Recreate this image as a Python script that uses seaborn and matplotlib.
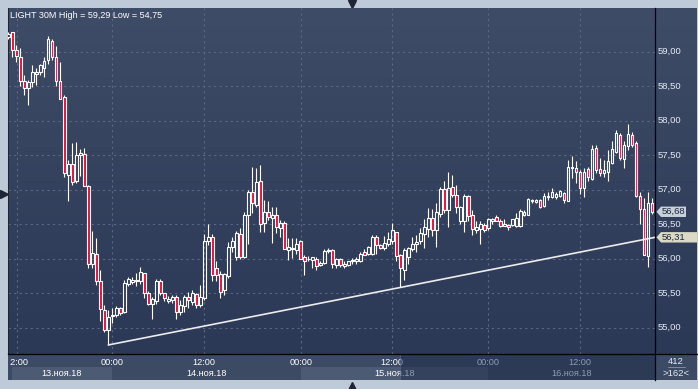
import matplotlib
matplotlib.use("Agg")  # pas de fenêtre, on enregistre directement

import numpy as np
import pandas as pd
import matplotlib.pyplot as plt
import seaborn as sns
from matplotlib.colors import LinearSegmentedColormap
from matplotlib.patches import Polygon
from matplotlib.transforms import Bbox, TransformedBbox

# ==========================
# 1. Data : LIGHT, bougies 30M
# ==========================

opens = [59.21, 59.28, 59.02, 58.92, 58.58, 58.47, 58.56, 58.68, 58.70, 58.76,
         58.88, 59.16, 58.93, 58.57, 58.34, 57.22, 57.37, 57.12, 57.51, 57.52,
         57.06, 55.92, 56.07, 55.67, 55.26, 54.96, 55.17, 55.19, 55.28, 55.23,
         55.64, 55.66, 55.67, 55.67, 55.79, 55.50, 55.34, 55.38, 55.68, 55.50,
         55.39, 55.40, 55.45, 55.23, 55.31, 55.44, 55.37, 55.49, 55.33, 55.43,
         56.25, 56.32, 55.86, 55.78, 55.55, 55.75, 56.17, 56.03, 56.36, 56.03,
         56.63, 56.97, 56.78, 57.12, 56.52, 56.68, 56.59, 56.64, 56.45, 56.52,
         56.13, 56.14, 56.12, 56.26, 56.02, 55.99, 55.98, 55.99, 55.91, 55.94,
         56.11, 56.12, 55.91, 55.99, 55.89, 55.91, 55.96, 55.97, 55.96, 56.10,
         56.07, 56.07, 56.32, 56.20, 56.15, 56.21, 56.25, 56.38, 56.05, 55.84,
         56.03, 56.14, 56.22, 56.25, 56.36, 56.43, 56.59, 56.42, 56.65, 57.01,
         56.70, 57.04, 56.93, 56.55, 56.55, 56.91, 56.64, 56.42, 56.43, 56.49,
         56.44, 56.55, 56.60, 56.55, 56.48, 56.49, 56.49, 56.47, 56.47, 56.64,
         56.64, 56.83, 56.82, 56.85, 56.76, 56.89, 56.90, 56.89, 56.91, 56.95,
         56.84, 57.31, 57.31, 57.26, 57.02, 57.30, 57.15, 57.60, 57.30, 57.24,
         57.26, 57.39, 57.54, 57.79, 57.44, 57.63, 57.79, 57.67, 56.91, 56.72,
         56.04, 56.80]

highs = [59.28, 59.29, 59.10, 59.05, 58.66, 58.59, 58.80, 58.77, 58.82, 58.92,
         59.23, 59.18, 59.08, 58.85, 58.37, 57.43, 57.67, 57.69, 57.59, 57.60,
         57.07, 56.40, 56.30, 55.84, 55.33, 55.25, 55.28, 55.31, 55.30, 55.69,
         55.73, 55.74, 55.79, 55.88, 55.80, 55.53, 55.45, 55.70, 55.70, 55.51,
         55.46, 55.48, 55.47, 55.40, 55.47, 55.52, 55.54, 55.51, 55.62, 56.36,
         56.50, 56.36, 55.96, 55.82, 55.80, 56.24, 56.32, 56.40, 56.45, 56.68,
         56.99, 57.33, 57.31, 57.36, 56.85, 56.83, 56.75, 56.75, 56.56, 56.54,
         56.30, 56.30, 56.30, 56.27, 56.05, 56.04, 56.03, 56.03, 55.97, 56.14,
         56.15, 56.14, 56.01, 56.01, 55.96, 55.97, 56.01, 56.02, 56.09, 56.14,
         56.18, 56.35, 56.34, 56.22, 56.33, 56.38, 56.52, 56.38, 56.07, 56.15,
         56.17, 56.32, 56.34, 56.44, 56.58, 56.73, 56.72, 56.80, 57.04, 57.12,
         57.25, 57.21, 57.07, 56.76, 56.94, 56.93, 56.71, 56.54, 56.54, 56.52,
         56.59, 56.59, 56.63, 56.57, 56.57, 56.50, 56.58, 56.66, 56.72, 56.71,
         56.88, 56.87, 56.86, 56.87, 56.95, 56.97, 57.02, 56.97, 57.00, 56.97,
         57.43, 57.49, 57.41, 57.29, 57.31, 57.33, 57.65, 57.65, 57.46, 57.43,
         57.58, 57.70, 57.87, 57.82, 57.70, 57.95, 57.84, 57.70, 56.96, 56.88,
         56.97, 56.88]

lows = [59.19, 58.92, 58.85, 58.50, 58.37, 58.23, 58.49, 58.51, 58.66, 58.64,
        58.82, 58.88, 58.50, 58.32, 57.19, 56.84, 57.07, 57.09, 57.20, 57.05,
        55.86, 55.86, 55.62, 55.09, 54.94, 54.75, 55.07, 55.16, 55.18, 55.21,
        55.60, 55.64, 55.60, 55.64, 55.43, 55.33, 55.13, 55.35, 55.47, 55.38,
        55.36, 55.36, 55.12, 55.18, 55.23, 55.28, 55.33, 55.28, 55.30, 55.40,
        56.20, 55.67, 55.67, 55.43, 55.47, 55.72, 56.10, 55.98, 56.00, 56.01,
        56.22, 56.66, 56.75, 56.39, 56.39, 56.56, 56.23, 56.37, 56.32, 56.14,
        55.98, 56.01, 56.07, 55.99, 55.76, 55.97, 55.86, 55.83, 55.89, 55.93,
        56.08, 55.86, 55.86, 55.88, 55.87, 55.89, 55.92, 55.93, 55.95, 56.05,
        56.05, 56.05, 56.07, 56.14, 56.12, 56.19, 56.21, 55.97, 55.59, 55.69,
        55.93, 56.11, 56.10, 56.22, 56.15, 56.32, 56.33, 56.17, 56.61, 56.66,
        56.46, 56.90, 56.66, 56.51, 56.39, 56.54, 56.34, 56.37, 56.22, 56.39,
        56.42, 56.51, 56.54, 56.46, 56.47, 56.41, 56.47, 56.46, 56.46, 56.62,
        56.63, 56.81, 56.81, 56.73, 56.75, 56.85, 56.88, 56.87, 56.89, 56.80,
        56.83, 57.17, 57.10, 56.94, 56.89, 57.12, 57.14, 57.24, 57.20, 57.19,
        57.12, 57.37, 57.53, 57.43, 57.31, 57.57, 57.62, 56.89, 56.51, 56.05,
        55.88, 56.65]

closes = [59.26, 59.03, 58.94, 58.57, 58.48, 58.56, 58.70, 58.71, 58.80, 58.87,
          59.18, 58.92, 58.58, 58.32, 57.24, 57.37, 57.11, 57.50, 57.53, 57.05,
          55.93, 56.08, 55.67, 55.27, 54.96, 55.16, 55.19, 55.28, 55.22, 55.65,
          55.70, 55.69, 55.69, 55.81, 55.51, 55.34, 55.41, 55.68, 55.51, 55.43,
          55.42, 55.44, 55.23, 55.33, 55.44, 55.40, 55.50, 55.33, 55.45, 56.26,
          56.31, 55.77, 55.76, 55.52, 55.78, 56.17, 56.25, 56.37, 56.03, 56.63,
          56.97, 56.80, 57.11, 56.51, 56.67, 56.61, 56.63, 56.46, 56.52, 56.14,
          56.17, 56.15, 56.22, 56.00, 55.97, 56.00, 56.02, 55.89, 55.94, 56.11,
          56.12, 55.93, 55.99, 55.91, 55.93, 55.96, 55.98, 56.00, 56.07, 56.06,
          56.17, 56.32, 56.20, 56.16, 56.23, 56.28, 56.41, 56.04, 55.87, 56.13,
          56.15, 56.22, 56.24, 56.37, 56.46, 56.59, 56.42, 56.68, 57.01, 56.71,
          57.02, 56.92, 56.75, 56.75, 56.91, 56.62, 56.43, 56.46, 56.50, 56.42,
          56.57, 56.57, 56.55, 56.48, 56.50, 56.46, 56.57, 56.59, 56.69, 56.67,
          56.86, 56.85, 56.85, 56.75, 56.91, 56.91, 56.97, 56.94, 56.98, 56.85,
          57.33, 57.33, 57.26, 57.02, 57.26, 57.19, 57.59, 57.28, 57.24, 57.29,
          57.41, 57.59, 57.82, 57.46, 57.65, 57.81, 57.65, 56.91, 56.72, 56.05,
          56.80, 56.68]

price_ticks = [55.0, 55.5, 56.0, 56.5, 57.0, 57.5, 58.0, 58.5, 59.0]

# positions en index de bougie
time_ticks = [2.2, 25.9, 49.0, 73.1, 95.9, 119.9, 142.8]
time_labels = ["12:00", "00:00", "12:00", "00:00", "12:00", "00:00", "12:00"]
day_edges = [0.9, 25.9, 73.1, 119.9, 161.7]
day_labels = ["13.ноя.18", "14.ноя.18", "15.ноя.18", "16.ноя.18"]
scroll_edge = 97.9

# ligne de tendance (depuis le plus bas)
trend_k = [25, 161.7]
trend_price = [54.75, 56.31]

bars_total = 412

df = pd.DataFrame({"open": opens, "high": highs, "low": lows, "close": closes})
df["k"] = np.arange(len(df))
df["top"] = df[["open", "close"]].max(axis=1)
df["bot"] = df[["open", "close"]].min(axis=1)
df["up"] = df["close"] >= df["open"]

# ==========================
# 2. Figure layout (pixels)
# ==========================

sns.set_style("dark")
plt.rcParams["font.family"] = ["Liberation Sans", "DejaVu Sans"]

W, H = 698, 389
X_LO, X_HI = -0.075, 161.675
Y_LO, Y_HI = 54.619, 59.633

fig = plt.figure(figsize=(W / 100, H / 100), dpi=100, facecolor="#bfcad9")


def px_axes(x0, y0, x1, y1, **kw):
    return fig.add_axes([x0 / W, 1 - y1 / H, (x1 - x0) / W, (y1 - y0) / H], **kw)


grad = LinearSegmentedColormap.from_list("bg", ["#3f4c67", "#2b3856"])


def paint_gradient(a):
    a.imshow(np.linspace(0, 1, 256).reshape(-1, 1), cmap=grad, aspect="auto",
             extent=[0, 1, 0, 1], transform=a.transAxes, zorder=-10, origin="upper")


# petites flèches du cadre
ax_bg = px_axes(0, 0, W, H)
ax_bg.set_zorder(-1)
ax_bg.set_xlim(0, W)
ax_bg.set_ylim(H, 0)
ax_bg.axis("off")
ax_bg.patch.set_alpha(0)
ax_bg.plot([352], [3.5], marker="v", ms=6, color="#1d2435", ls="none")
ax_bg.plot([352], [385.5], marker="^", ms=6, color="#1d2435", ls="none")
ax_bg.plot([3.5], [194], marker=">", ms=6, color="#1d2435", ls="none")

# ==========================
# 3. Chart principal
# ==========================

ax = px_axes(8, 8, 655, 354)
paint_gradient(ax)

ax.vlines(df["k"], df["top"], df["high"], color="white", lw=0.8, zorder=3)
ax.vlines(df["k"], df["low"], df["bot"], color="white", lw=0.8, zorder=3)
body_h = np.maximum(df["top"] - df["bot"], 0.012)
fills = [(0, 0, 0, 0) if u else "#ec0a36" for u in df["up"]]
ax.bar(df["k"], body_h, bottom=df["bot"], width=0.6, color=fills,
       edgecolor="white", linewidth=0.8, zorder=4)

sns.lineplot(x=trend_k, y=trend_price, ax=ax, color="#ececec", linewidth=1.2,
             sort=False, estimator=None, zorder=5)

ax.set_yticks(price_ticks)
ax.set_xticks(time_ticks)
ax.grid(True, color="#5a6785", ls=(0, (2, 3)), lw=0.8)
ax.tick_params(length=0, labelleft=False, labelbottom=False)
ax.set_xlabel("")
ax.set_ylabel("")
for name, s in ax.spines.items():
    s.set_visible(name == "left")
ax.spines["left"].set_color("#1f2535")
ax.spines["left"].set_linewidth(0.75)

ax.text(2 / 647, 1 - 7 / 346, "LIGHT 30M High = %s Low = %s" % (
    f"{max(highs):.2f}".replace(".", ","), f"{min(lows):.2f}".replace(".", ",")),
    transform=ax.transAxes, color="white", fontsize=6.5, ha="left", va="center")

# ==========================
# 4. Echelle des prix (droite)
# ==========================

ax_r = px_axes(655, 8, 697, 354, sharey=ax)
paint_gradient(ax_r)
ax_r.tick_params(length=0, labelleft=False, labelbottom=False)
ax_r.grid(False)
for name, s in ax_r.spines.items():
    s.set_visible(name == "left")
ax_r.spines["left"].set_color("black")
ax_r.spines["left"].set_linewidth(0.9)

for t in price_ticks:
    ax_r.text(658, t, f"{t:.2f}".replace(".", ","), color="#e4ebf5",
              fontsize=6.8, ha="left", va="center")

tags = [(closes[-1], "#c8d0da", 686), (trend_price[-1], "#dcdac4", 697)]
hh = 5.2 / 69
for p, col, right in tags:
    ax_r.add_patch(Polygon([(656.5, p), (661, p + hh), (right, p + hh),
                            (right, p - hh), (661, p - hh)],
                           closed=True, facecolor=col, edgecolor="none", zorder=3))
    ax_r.text(661.5, p, f"{p:.2f}".replace(".", ","), color="#1c2640",
              fontsize=6.8, ha="left", va="center", zorder=4)

# ==========================
# 5. Echelle du temps (bas)
# ==========================

ax_t = px_axes(8, 354, 655, 380, sharex=ax)
ax_t.set_ylim(26, 0)
ax_t.tick_params(length=0, labelleft=False, labelbottom=False)
ax_t.grid(False)
for name, s in ax_t.spines.items():
    s.set_visible(name == "top")
ax_t.spines["top"].set_color("black")
ax_t.spines["top"].set_linewidth(0.9)

ax_t.axvspan(X_LO, scroll_edge, ymin=0.5, ymax=1, color="#3d4a63", lw=0)
ax_t.axvspan(scroll_edge, X_HI, ymin=0.5, ymax=1, color="#2c3a55", lw=0)
ax_t.axvspan(X_LO, day_edges[0], ymin=0, ymax=0.5, color="#3d4a63", lw=0)
for i in range(len(day_labels)):
    a, b = day_edges[i], day_edges[i + 1]
    light = i % 2 == 0
    if a < scroll_edge:
        ax_t.axvspan(a, min(b, scroll_edge), ymin=0, ymax=0.5, lw=0,
                     color="#4c5a74" if light else "#3d4a63")
    if b > scroll_edge:
        ax_t.axvspan(max(a, scroll_edge), b, ymin=0, ymax=0.5, lw=0,
                     color="#35425d" if light else "#2c3a55")
ax_t.axvline(scroll_edge, color="#56637e", lw=0.6)

# le texte est clippé : clair à gauche du curseur, terne à droite
xt = ax_t.get_xaxis_transform()
clip_bright = TransformedBbox(Bbox([[0.45, 0], [scroll_edge, 1]]), xt)
clip_dim = TransformedBbox(Bbox([[scroll_edge, 0], [X_HI, 1]]), xt)


def two_tone(x, y, s):
    for col, box in (("#ffffff", clip_bright), ("#8f9bb0", clip_dim)):
        t = ax_t.text(x, y, s, color=col, fontsize=6.6, ha="center", va="center")
        t.set_clip_on(True)
        t.set_clip_box(box)


for x, s in zip(time_ticks, time_labels):
    two_tone(x, 8.3, s)
for i, s in enumerate(day_labels):
    two_tone((day_edges[i] + day_edges[i + 1]) / 2, 20, s)

# coin bas droit
ax_c = px_axes(655, 354, 697, 380)
ax_c.set_facecolor("#3d4a63")
ax_c.set_xlim(0, 42)
ax_c.set_ylim(26, 0)
ax_c.tick_params(length=0, labelleft=False, labelbottom=False)
ax_c.grid(False)
for name, s in ax_c.spines.items():
    s.set_visible(name in ("left", "top"))
    s.set_color("black")
    s.set_linewidth(0.9)
ax_c.text(21, 7.2, str(bars_total), color="#e4ebf5", fontsize=6.8, ha="center", va="center")
ax_c.plot([13, 30], [13.3, 13.3], color="#7f8ca5", lw=0.7)
ax_c.text(21, 20, ">%d<" % len(df), color="#e4ebf5", fontsize=6.8, ha="center", va="center")

ax.set_xlim(X_LO, X_HI)
ax.set_ylim(Y_LO, Y_HI)
ax_r.set_xlim(655, 697)

fig.savefig("out.png", dpi=100, facecolor=fig.get_facecolor())
plt.close(fig)
